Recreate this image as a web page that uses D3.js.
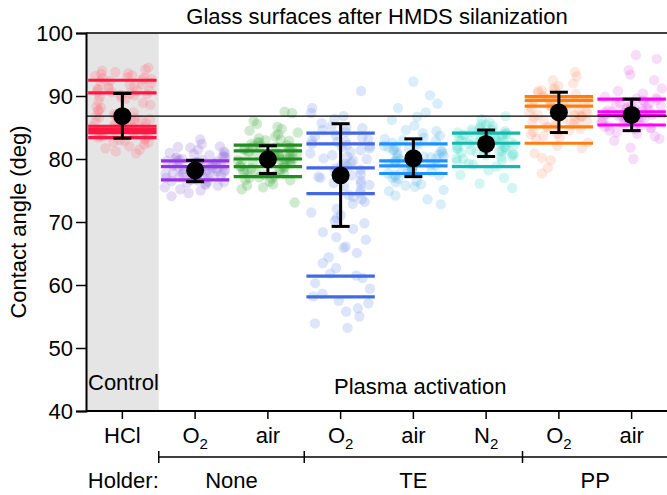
<!DOCTYPE html>
<html>
<head>
<meta charset="utf-8">
<script src="https://cdn.jsdelivr.net/npm/d3@7"></script>
<style>
  body { margin: 0; background: #fff; }
  text { font-family: "Liberation Sans", Arial, sans-serif; fill: #000; }
</style>
</head>
<body>
<div id="chart"></div>
<script>
// Categories (gas) and their subscripts
const gasLabels = ["HCl", "O", "air", "O", "air", "N", "O", "air"];
const gasSubs = ["", "2", "", "2", "", "2", "2", ""];

// Line / point colours per category
const lineColors = ["#ff1744", "#9b30e8", "#228b22", "#4169e1", "#1e90ff", "#14b8b0", "#ff7f0e", "#ff00ff"];
const pointColors = ["#ff7080", "#9370db", "#3aa63a", "#7094f0", "#62b8e6", "#48d8c8", "#ffa07a", "#e070e8"];

// Sample means (coloured horizontal lines)
const sampleMeans = [
    [92.5, 90.5, 85.2, 84.7, 84.2, 83.4],
    [79.7, 78.8, 76.7],
    [82.2, 81.3, 80.0, 78.8, 77.2],
    [84.1, 82.4, 78.6, 74.5, 61.4, 58.1],
    [82.4, 79.7, 78.9, 77.7],
    [84.1, 82.5, 78.8],
    [89.9, 89.3, 88.4, 85.1, 82.5],
    [89.5, 87.5, 86.9, 85.4]
];

// Overall mean and error bar limits
const groupMean = [86.8, 78.2, 79.95, 77.4, 80.1, 82.4, 87.4, 87.0];
const errHigh = [90.4, 79.8, 82.1, 85.6, 83.2, 84.6, 90.6, 89.5];
const errLow = [83.3, 76.4, 77.7, 69.3, 77.2, 80.4, 84.2, 84.5];

// Reference line (HCl mean)
const refValue = 86.8;

// Individual measurements
const pointsHCl = [92.8, 93.5, 91.9, 94.2, 92.1, 93.0, 91.4, 92.6, 93.8, 90.9, 92.3, 91.1, 90.4, 89.8, 90.7, 91.6, 90.1, 89.5, 90.9, 89.2, 88.6, 91.3, 93.2, 94.5, 92.7, 88.1, 87.4, 86.3, 85.6, 85.1, 84.8, 85.9, 84.3, 86.8, 85.4, 84.0, 83.6, 85.2, 84.6, 83.1, 82.7, 83.9, 86.1, 84.9, 85.7, 82.3, 83.4, 84.4, 81.7, 81.2, 82.9, 86.5, 87.1, 85.0, 84.2, 83.8, 80.9, 88.9, 87.8, 90.2,
    84.5, 85.3, 83.7, 86.2, 84.1, 85.8, 83.3, 84.9, 85.5, 82.6, 84.7, 86.6, 83.0, 85.1, 84.3, 91.8, 92.9, 90.6, 93.6, 91.0, 92.4, 89.9, 93.3, 90.3, 87.6, 88.3, 86.9, 82.0, 81.5, 94.0];
const pointsO2None = [78.5, 79.2, 77.8, 80.1, 78.9, 77.3, 79.6, 78.1, 76.8, 80.5, 79.0, 77.6, 78.4, 76.2, 81.2, 79.9, 78.7, 77.1, 75.8, 80.8, 78.2, 79.4, 76.5, 77.9, 81.8, 75.2, 78.6, 79.7, 77.4, 76.9, 80.3, 82.4, 83.1, 74.6, 75.5, 78.0, 79.1, 77.0, 80.0, 76.1, 81.5, 78.8, 77.7, 79.3, 74.1, 82.0, 76.6, 78.3, 80.6, 77.2,
    78.7, 79.5, 77.5, 78.1, 80.2, 76.4, 79.8, 77.9, 78.4, 80.9, 76.7, 79.1, 77.2, 78.9, 81.0, 75.9, 79.4, 78.2, 77.0, 80.4, 75.0, 81.9, 78.6, 76.3, 79.6];
const pointsAirNone = [80.1, 81.5, 79.3, 78.2, 82.4, 77.6, 80.8, 83.1, 79.8, 76.9, 81.0, 78.7, 82.9, 80.4, 77.3, 79.0, 84.2, 78.0, 81.8, 76.4, 80.6, 79.5, 83.6, 77.9, 82.1, 75.8, 80.2, 78.5, 81.3, 85.1, 86.0, 87.5, 87.3, 84.8, 76.0, 79.9, 82.7, 78.9, 75.2, 81.6, 80.0, 77.1, 83.9, 79.2, 73.1, 85.6, 80.9, 78.3, 82.2, 76.7,
    79.6, 80.5, 78.8, 81.9, 77.5, 82.6, 80.3, 79.1, 81.2, 78.1, 83.3, 76.6, 80.7, 79.4, 82.0, 77.8, 81.1, 79.9, 84.5, 75.5, 80.8, 78.6, 83.0, 77.0, 81.7];
const pointsO2TE = [90.8, 88.1, 86.4, 85.2, 84.6, 83.8, 83.1, 82.7, 82.0, 81.4, 80.9, 80.1, 79.7, 78.8, 78.5, 77.4, 77.0, 76.2, 75.7, 74.6, 74.3, 73.2, 72.9, 71.5, 71.1, 70.2, 69.8, 68.4, 67.6, 67.2, 65.9, 65.1, 64.4, 63.5, 62.7, 61.8, 61.1, 60.3, 59.4, 58.6, 57.5, 57.1, 55.8, 55.0, 53.9, 53.2, 84.9, 83.4, 82.9, 81.7, 80.4, 79.2, 78.0, 76.6, 75.1, 85.7, 87.3, 82.2, 77.8, 73.6, 68.9, 66.1, 61.5, 58.2, 56.3,
    83.6, 82.4, 81.1, 80.0, 79.0, 77.6, 76.1, 84.3, 82.8, 80.6, 78.3, 75.9, 74.0, 72.1, 70.6, 86.8, 85.0, 81.9, 79.5, 77.2];
const pointsAirTE = [80.2, 81.6, 79.4, 78.3, 82.5, 77.7, 80.9, 83.2, 79.1, 76.8, 81.2, 78.6, 84.1, 80.5, 77.4, 79.8, 82.9, 78.1, 81.9, 76.3, 80.7, 79.6, 83.7, 77.9, 85.3, 75.6, 80.1, 78.9, 81.4, 86.2, 87.4, 88.8, 90.1, 92.3, 74.9, 73.6, 72.8, 75.1, 82.3, 79.0, 84.6, 78.4, 76.0, 81.0, 83.0, 88.1, 86.7, 77.2, 80.3, 74.2,
    80.6, 79.5, 81.3, 78.7, 82.1, 77.5, 80.0, 79.2, 81.8, 78.0, 83.4, 76.5, 80.4, 79.7, 82.6, 77.0, 81.5, 78.2, 84.4, 75.8];
const pointsN2TE = [82.5, 83.6, 81.8, 84.4, 80.9, 82.1, 85.2, 83.0, 81.3, 79.8, 84.0, 82.8, 80.4, 83.9, 85.8, 81.0, 82.3, 79.3, 84.8, 83.3, 80.1, 86.3, 82.0, 81.6, 84.2, 78.8, 83.1, 85.5, 80.7, 82.6, 78.2, 77.5, 76.1, 75.4, 86.8, 84.6, 81.9, 83.5, 79.6, 82.9, 80.3, 85.0, 77.0, 83.8, 81.4,
    82.2, 83.2, 81.5, 84.1, 80.6, 82.7, 83.8, 81.1, 82.4, 84.7, 80.0, 83.4, 81.7, 85.4, 79.1, 82.9, 84.3, 80.8, 83.0, 81.2];
const pointsO2PP = [87.6, 88.9, 86.2, 89.5, 85.7, 88.1, 90.3, 86.9, 84.8, 89.0, 87.2, 91.2, 85.3, 88.5, 86.6, 90.8, 83.9, 87.9, 89.8, 86.0, 92.0, 84.3, 88.3, 87.0, 91.6, 85.0, 89.2, 83.2, 82.6, 81.7, 80.9, 79.8, 78.6, 77.7, 93.1, 93.8, 92.5, 90.0, 86.4, 88.7, 84.0, 87.4, 85.5, 89.9, 82.1, 91.0, 86.8, 88.0, 83.6, 80.2,
    87.3, 88.6, 86.3, 89.3, 85.9, 87.8, 90.5, 86.7, 88.2, 85.1, 89.6, 87.0, 84.5, 88.8, 86.1, 90.9, 83.5, 87.5, 89.1, 85.6];
const pointsAirPP = [87.2, 88.4, 86.5, 89.1, 85.8, 87.9, 86.1, 88.8, 85.2, 87.5, 89.6, 86.8, 84.7, 88.2, 87.0, 85.5, 89.9, 86.3, 88.0, 84.2, 87.7, 86.9, 89.3, 85.0, 90.4, 83.6, 87.3, 88.6, 86.6, 91.2, 92.5, 93.4, 94.1, 95.9, 96.5, 82.9, 81.8, 80.0, 84.9, 90.8, 86.2, 88.5, 85.9, 87.8, 83.2,
    87.1, 86.4, 88.1, 85.6, 87.6, 86.7, 88.9, 85.3, 87.4, 86.0, 89.4, 84.5, 87.9, 86.2, 88.3, 85.1, 87.0, 86.9, 89.7, 84.0];
const pointSets = [pointsHCl, pointsO2None, pointsAirNone, pointsO2TE, pointsAirTE, pointsN2TE, pointsO2PP, pointsAirPP];

// Holder groups: [first category, last category, label]
const holderGroups = [[1, 2, "None"], [3, 5, "TE"], [6, 7, "PP"]];

const yTicks = [40, 50, 60, 70, 80, 90, 100];

// Layout
const width = 667, height = 495;
const margin = { top: 33, right: -1, bottom: 84, left: 86 };
const plotW = width - margin.left - margin.right;
const plotH = height - margin.top - margin.bottom;

const svg = d3.select("#chart").append("svg")
    .attr("width", width)
    .attr("height", height);

const x = d3.scaleBand()
    .domain(d3.range(gasLabels.length))
    .range([margin.left, margin.left + plotW])
    .padding(0);

const y = d3.scaleLinear()
    .domain([40, 100])
    .range([margin.top + plotH, margin.top]);

const bw = x.bandwidth();

// Control background
svg.append("rect")
    .attr("x", x(0))
    .attr("y", y(100))
    .attr("width", bw)
    .attr("height", y(40) - y(100))
    .attr("fill", "#e5e5e5");

// Scatter points, spread across the band (deterministic jitter)
pointSets.forEach((pts, c) => {
    svg.append("g").selectAll("circle")
        .data(pts)
        .join("circle")
        .attr("cx", (d, i) => x(c) + bw / 2 + (((i * 0.7548777 + d * 3.17) % 1) - 0.5) * (bw - 12))
        .attr("cy", d => y(d))
        .attr("r", 5.2)
        .attr("fill", pointColors[c])
        .attr("fill-opacity", 0.24);
});

// Sample mean lines
sampleMeans.forEach((means, c) => {
    svg.append("g").selectAll("line")
        .data(means)
        .join("line")
        .attr("x1", x(c) + bw * 0.03)
        .attr("x2", x(c) + bw * 0.97)
        .attr("y1", d => y(d))
        .attr("y2", d => y(d))
        .attr("stroke", lineColors[c])
        .attr("stroke-width", 3.2);
});

// Reference line at control mean
svg.append("line")
    .attr("x1", margin.left)
    .attr("x2", width)
    .attr("y1", y(refValue))
    .attr("y2", y(refValue))
    .attr("stroke", "#000")
    .attr("stroke-width", 1.4);

// Error bars and means
const eb = svg.append("g");
groupMean.forEach((m, c) => {
    const cx = x(c) + bw / 2;
    eb.append("line")
        .attr("x1", cx).attr("x2", cx)
        .attr("y1", y(errLow[c])).attr("y2", y(errHigh[c]))
        .attr("stroke", "#000").attr("stroke-width", 3);
    [errLow[c], errHigh[c]].forEach(v => {
        eb.append("line")
            .attr("x1", cx - 9).attr("x2", cx + 9)
            .attr("y1", y(v)).attr("y2", y(v))
            .attr("stroke", "#000").attr("stroke-width", 3);
    });
    eb.append("circle")
        .attr("cx", cx).attr("cy", y(m))
        .attr("r", 9).attr("fill", "#000");
});

// Top frame line
svg.append("line")
    .attr("x1", margin.left).attr("x2", width)
    .attr("y1", y(100)).attr("y2", y(100))
    .attr("stroke", "#000").attr("stroke-width", 1.5);

// Y axis
const yAxis = svg.append("g")
    .attr("transform", `translate(${margin.left},0)`)
    .call(d3.axisLeft(y).tickValues(yTicks).tickSize(10).tickPadding(3));
yAxis.select(".domain").attr("stroke-width", 2);
yAxis.selectAll(".tick line").attr("stroke-width", 1.5);
yAxis.selectAll("text")
    .style("font-family", "'Liberation Sans', Arial, sans-serif")
    .style("font-size", "22px");

// X axis (ticks only, labels drawn separately for subscripts)
const xAxis = svg.append("g")
    .attr("transform", `translate(0,${y(40)})`)
    .call(d3.axisBottom(x).tickSize(8).tickFormat(""));
xAxis.select(".domain").attr("stroke-width", 2).attr("d", `M${margin.left},0H${width}`);
xAxis.selectAll(".tick line").attr("stroke-width", 1.5);

// Category labels
gasLabels.forEach((lab, c) => {
    const t = svg.append("text")
        .attr("x", x(c) + bw / 2)
        .attr("y", 443)
        .attr("text-anchor", "middle")
        .style("font-size", "22px");
    t.append("tspan").text(lab);
    if (gasSubs[c]) {
        t.append("tspan")
            .attr("dy", 6)
            .style("font-size", "15px")
            .text(gasSubs[c]);
    }
});

// Holder bracket
const bracketY = 457;
svg.append("line")
    .attr("x1", x(1)).attr("x2", width)
    .attr("y1", bracketY).attr("y2", bracketY)
    .attr("stroke", "#000").attr("stroke-width", 1.5);
[x(1), x(3), x(6)].forEach(bx => {
    svg.append("line")
        .attr("x1", bx).attr("x2", bx)
        .attr("y1", bracketY - 6).attr("y2", bracketY + 6)
        .attr("stroke", "#000").attr("stroke-width", 1.5);
});

svg.append("text")
    .attr("x", x(1))
    .attr("y", 488)
    .attr("text-anchor", "end")
    .style("font-size", "22px")
    .text("Holder:");

holderGroups.forEach(([a, b, lab]) => {
    svg.append("text")
        .attr("x", (x(a) + x(b) + bw) / 2)
        .attr("y", 488)
        .attr("text-anchor", "middle")
        .style("font-size", "22px")
        .text(lab);
});

// Region labels
svg.append("text")
    .attr("x", x(0) + 2)
    .attr("y", 390)
    .style("font-size", "22px")
    .text("Control");

svg.append("text")
    .attr("x", 334)
    .attr("y", 394)
    .style("font-size", "22px")
    .text("Plasma activation");

// Title
svg.append("text")
    .attr("x", 377)
    .attr("y", 24)
    .attr("text-anchor", "middle")
    .style("font-size", "22px")
    .text("Glass surfaces after HMDS silanization");

// Y label
svg.append("text")
    .attr("transform", `translate(26,${y(70)}) rotate(-90)`)
    .attr("text-anchor", "middle")
    .style("font-size", "22px")
    .text("Contact angle (deg)");
</script>
</body>
</html>
